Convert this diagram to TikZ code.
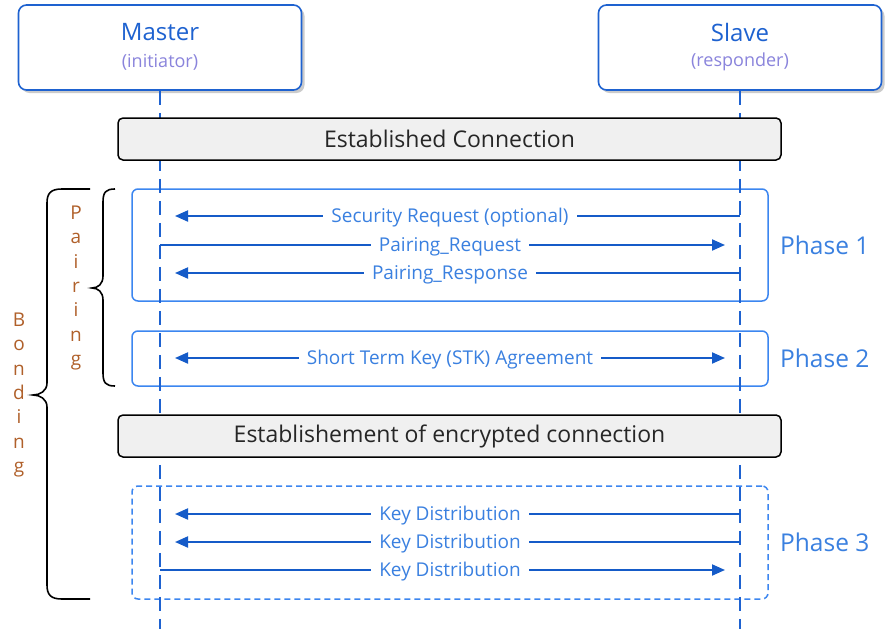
\documentclass[tikz,border=0pt]{standalone}
\usepackage{fontspec}
\setmainfont{Open Sans}
\usetikzlibrary{arrows.meta,shadows,calc}
\definecolor{hdrblue}{HTML}{1E62D0}
\definecolor{boxblue}{HTML}{3C86F0}
\definecolor{arrblue}{HTML}{155BC8}
\definecolor{lblblue}{HTML}{3A80E0}
\definecolor{roleviol}{HTML}{8A84DC}
\definecolor{grayfill}{HTML}{F0F0F0}
\definecolor{vtxt}{HTML}{B0602A}
\tikzset{
  hdr/.style={draw=hdrblue, line width=1.6pt, rounded corners=8pt, fill=white,
    minimum width=283pt, minimum height=85pt, inner sep=0pt,
    drop shadow={shadow xshift=3pt, shadow yshift=-3pt, fill=black!40, opacity=0.5}},
  hdrtitle/.style={text=hdrblue, font=\fontsize{24}{24}\selectfont, inner sep=0pt},
  role/.style={text=roleviol, font=\fontsize{18}{18}\selectfont, inner sep=0pt},
  graybox/.style={draw=black, line width=1.5pt, rounded corners=5pt, fill=grayfill,
    minimum width=663pt, minimum height=42pt, inner sep=0pt,
    font=\fontsize{23}{23}\selectfont, text=black!85},
  phasebox/.style={draw=boxblue, line width=1.5pt, rounded corners=6pt,
    minimum width=636pt, inner sep=0pt},
  phaselbl/.style={text=lblblue, font=\fontsize{24.5}{24.5}\selectfont, anchor=west, inner sep=0pt},
  life/.style={draw=hdrblue, line width=1.6pt, dash pattern=on 14pt off 8pt},
  msg/.style={draw=arrblue, line width=2pt},
  tipend/.style={-{Triangle[length=13pt,width=11pt]}, shorten >=15pt},
  tipboth/.style={{Triangle[length=13pt,width=11pt]}-{Triangle[length=13pt,width=11pt]}, shorten >=15pt, shorten <=15pt},
  lbl/.style={fill=white, text=lblblue, font=\fontsize{19}{19}\selectfont, inner xsep=8pt, inner ysep=1pt, yshift=-2pt},
  vert/.style={text=vtxt, align=center, font=\fontsize{19}{24.3}\selectfont, inner sep=0pt},
  brace/.style={draw=black, line width=1.6pt}
}
\begin{document}
\begin{tikzpicture}[x=1pt,y=-1pt]
\useasboundingbox (0,0) rectangle (895,629);
\fill[white] (0,0) rectangle (895,629);

% phase boxes
\node[phasebox, minimum height=112pt] (ph1) at (450,245) {};
\node[phasebox, minimum height=55pt] (ph2) at (450,358.5) {};
\node[phasebox, minimum height=113pt, dash pattern=on 6pt off 4pt] (ph3) at (450,542.5) {};

% header boxes
\node[hdr] (master) at (160,47.5) {};
\node[hdr] (slave) at (740,47.5) {};
\node[hdrtitle] (mastert) at (160,32) {Master};
\node[role] (masterr) at (160,62) {(initiator)};
\node[hdrtitle] (slavet) at (740,32) {Slave};
\node[role] (slaver) at (740,62) {(responder)};

% lifelines
\coordinate (mend) at (160,629);
\coordinate (send) at (740,629);
\draw[life] (master.south) -- (mend);
\draw[life] (slave.south) -- (send);

% gray boxes
\node[graybox] (est) at (449.5,139) {Established Connection};
\node[graybox] (enc) at (449.5,436) {Establishement of encrypted connection};

% message coordinates
\foreach \n/\y in {a/216,b/245,c/273,d/358,e/514,f/542,g/570}{
  \coordinate (m\n) at (160,\y);
  \coordinate (s\n) at (740,\y);
}
\draw[msg, tipend] (sa) -- (ma) node[lbl, midway] (la) {Security Request (optional)};
\draw[msg, tipend] (mb) -- (sb) node[lbl, midway] (lb) {Pairing\_Request};
\draw[msg, tipend] (sc) -- (mc) node[lbl, midway] (lc) {Pairing\_Response};
\draw[msg, tipboth] (md) -- (sd) node[lbl, midway] (ld) {Short Term Key (STK) Agreement};
\draw[msg, tipend] (se) -- (me) node[lbl, midway] (le) {Key Distribution};
\draw[msg, tipend] (sf) -- (mf) node[lbl, midway] (lf) {Key Distribution};
\draw[msg, tipend] (mg) -- (sg) node[lbl, midway] (lg) {Key Distribution};

% phase labels
\node[phaselbl] (p1) at (780,245) {Phase 1};
\node[phaselbl] (p2) at (780,358) {Phase 2};
\node[phaselbl] (p3) at (780,542) {Phase 3};

% pairing brace
\draw[brace] (115,189) .. controls (106,189) and (103,192) .. (103,202)
  -- (103,276) .. controls (103,284) and (98,288) .. (92,288)
  .. controls (98,288) and (103,292) .. (103,300)
  -- (103,373) .. controls (103,383) and (106,386) .. (115,386);
% bonding brace
\draw[brace] (90,189) -- (62,189) .. controls (51,189) and (47,193) .. (47,203)
  -- (47,383) .. controls (47,391) and (40,395) .. (33,395)
  .. controls (40,395) and (47,399) .. (47,407)
  -- (47,585) .. controls (47,595) and (51,599) .. (62,599) -- (90,599);

% vertical words
\node[vert] (pairing) at (76,288) {P\\a\\i\\r\\i\\n\\g};
\node[vert] (bonding) at (19,395) {B\\o\\n\\d\\i\\n\\g};
\end{tikzpicture}
\end{document}
